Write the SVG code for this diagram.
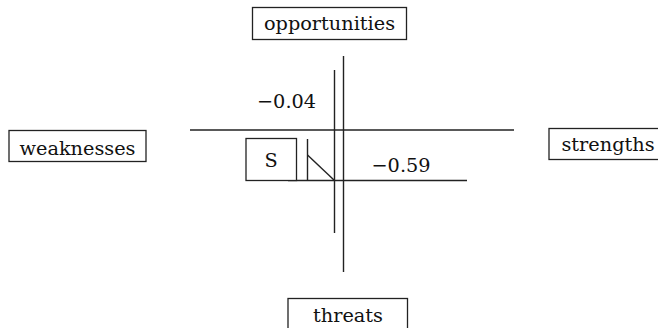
<svg xmlns="http://www.w3.org/2000/svg" width="658" height="328" viewBox="0 0 658 328">
<style>
.box{fill:#fff;stroke:#222;stroke-width:1.3}
.t{font-family:"DejaVu Serif","Liberation Serif",serif;font-size:19.3px;fill:#111}
.ln{stroke:#222;stroke-width:1.4;fill:none}
</style>
<rect width="658" height="328" fill="#fff"/>
<g id="connectors">
<line class="ln" x1="190" y1="130" x2="514" y2="130"/>
<line class="ln" x1="288" y1="180.5" x2="467" y2="180.5"/>
<line class="ln" x1="343.5" y1="56" x2="343.5" y2="272"/>
<line class="ln" x1="334.5" y1="70" x2="334.5" y2="233"/>
<line class="ln" x1="307.5" y1="139" x2="307.5" y2="180.5"/>
<line class="ln" x1="307.5" y1="155" x2="334.5" y2="180.5"/>
</g>
<g id="opportunities"><rect class="box" x="252.5" y="7.5" width="154" height="32"/><text class="t" x="329.5" y="30" text-anchor="middle">opportunities</text></g>
<g id="weaknesses"><rect class="box" x="9" y="130.5" width="137" height="31"/><text class="t" x="77.5" y="154.5" text-anchor="middle">weaknesses</text></g>
<g id="strengths"><rect class="box" x="549" y="128.5" width="115" height="31"/><text class="t" x="608" y="150.5" text-anchor="middle">strengths</text></g>
<g id="threats"><rect class="box" x="288" y="298.5" width="119.5" height="40"/><text class="t" x="348" y="321.5" text-anchor="middle">threats</text></g>
<g id="S"><rect class="box" x="246" y="138.5" width="50.5" height="42"/><text class="t" x="271" y="166.5" text-anchor="middle">S</text></g>
<g id="labels">
<text class="t" x="286.5" y="108" text-anchor="middle">−0.04</text>
<text class="t" x="401" y="172" text-anchor="middle">−0.59</text>
</g>
</svg>
